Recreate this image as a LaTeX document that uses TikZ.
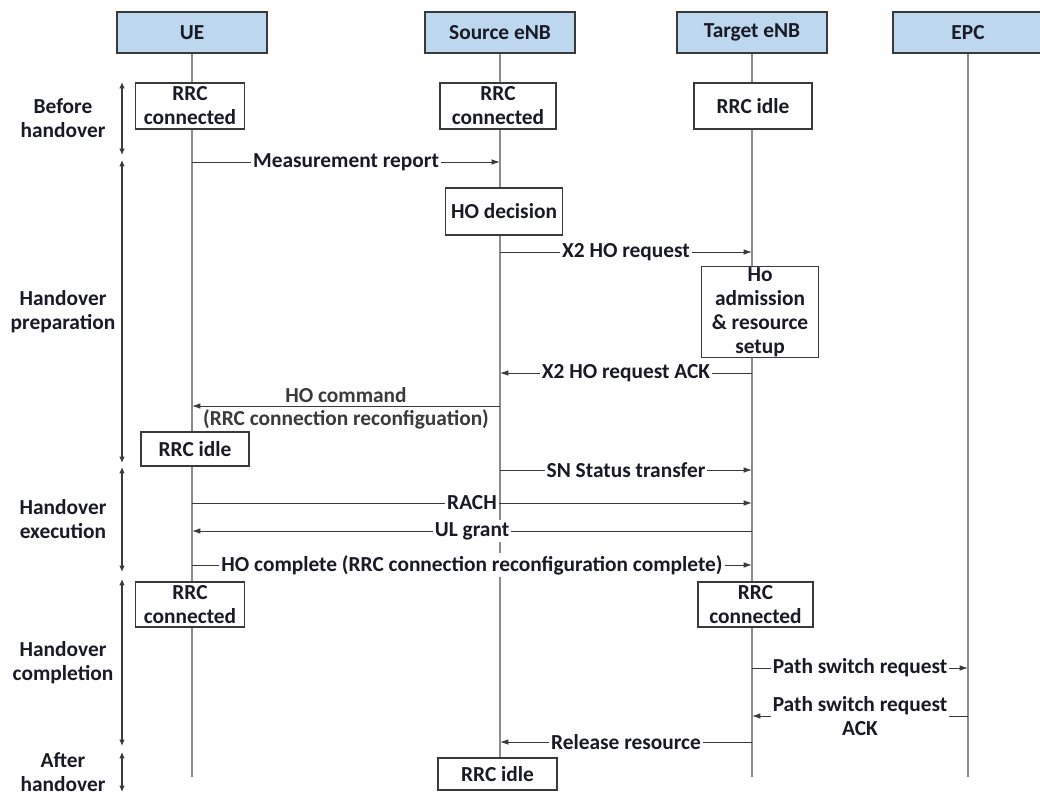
\documentclass[tikz,border=0pt]{standalone}
\usepackage{fontspec}
\setmainfont{Carlito}
\usepackage{tikz}
\usetikzlibrary{positioning,calc,arrows.meta}

\definecolor{hdrblue}{HTML}{BDD7EE}
\definecolor{lifegray}{HTML}{8C8C8C}
\definecolor{linegray}{HTML}{3A3A3A}
\definecolor{txtdark}{HTML}{1A1A26}

\tikzset{
  actor/.style={draw=linegray, line width=0.9pt, fill=hdrblue, minimum width=3.75cm, minimum height=1.025cm},
  state/.style={draw=linegray, line width=0.8pt, fill=white, align=center, inner sep=1pt},
  lifeline/.style={lifegray, line width=0.9pt},
  msg/.style={linegray, line width=0.7pt, -{Latex[length=6pt,width=4pt]}},
  msglabel/.style={fill=white, inner sep=1.5pt, text=txtdark},
  phase/.style={linegray, line width=0.9pt, {Latex[length=4.5pt,width=4pt]}-{Latex[length=4.5pt,width=4pt]}},
  phaselabel/.style={align=center}
}

\begin{document}
\begin{tikzpicture}[x=0.025cm, y=-0.025cm, font=\fontsize{15.2}{17}\selectfont\bfseries, text=txtdark]
  \useasboundingbox (0,0) rectangle (1040,795);

  % Entities and lifelines
  \foreach \n/\x/\t in {ue/192/UE, src/500/Source eNB, tgt/752/Target eNB, epc/968/EPC} {
    \node[actor] (\n) at (\x,32.5) {\t};
    \coordinate (\n-end) at (\x,777);
    \draw[lifeline] (\n) -- (\n-end);
  }

  % States
  \node[state, minimum width=2.725cm, minimum height=1.15cm] (ue-con) at (190,106) {RRC\\connected};
  \node[state, minimum width=2.9cm, minimum height=1.15cm] (src-con) at (498,106) {RRC\\connected};
  \node[state, minimum width=2.95cm, minimum height=1.15cm] (tgt-idle) at (753,106) {RRC idle};
  \node[state, minimum width=2.925cm, minimum height=1.175cm] (hodec) at (504,211.5) {HO decision};
  \node[state, minimum width=2.925cm, minimum height=2.25cm] (admit) at (760,312) {Ho\\admission\\\& resource\\setup};
  \node[state, minimum width=2.7cm, minimum height=0.85cm] (ue-idle) at (195,449) {RRC idle};
  \node[state, minimum width=2.725cm, minimum height=1.125cm] (ue-con2) at (190,604.5) {RRC\\connected};
  \node[state, minimum width=2.875cm, minimum height=1.125cm] (tgt-con) at (755.5,604.5) {RRC\\connected};
  \node[state, minimum width=2.975cm, minimum height=0.8cm] (src-idle) at (497.5,774) {RRC idle};

  % Message rows
  \foreach \r/\y in {r1/162, r2/252, r3/373, r4/406, r5/470, r6/503, r7/531, r8/565, r9/668, r10/716, r11/742}
    \coordinate (\r) at (0,\y);

  % Messages
  \draw[msg] (ue |- r1) -- node[msglabel] {Measurement report} (src |- r1);
  \draw[msg] (src |- r2) -- node[msglabel] {X2 HO request} (tgt |- r2);
  \draw[msg] (tgt |- r3) -- node[msglabel] {X2 HO request ACK} (src |- r3);
  \draw[msg] (src |- r4) -- node[above=-1.5pt] {HO command} node[below=-1pt] {(RRC connection reconfiguation)} (ue |- r4);
  \draw[msg] (src |- r5) -- node[msglabel] {SN Status transfer} (tgt |- r5);
  \draw[msg] (ue |- r6) -- node[msglabel] {RACH} (tgt |- r6);
  \draw[msg] (tgt |- r7) -- node[msglabel] {UL grant} (ue |- r7);
  \draw[msg] (ue |- r8) -- node[msglabel] {HO complete (RRC connection reconfiguration complete)} (tgt |- r8);
  \draw[msg] (tgt |- r9) -- node[msglabel] {Path switch request} (epc |- r9);
  \draw[msg] (epc |- r10) -- node[msglabel, align=center] {Path switch request\\ACK} (tgt |- r10);
  \draw[msg] (tgt |- r11) -- node[msglabel] {Release resource} (src |- r11);

  % Phases
  \foreach \p/\a/\b/\t in {pb/82/155/{Before\\handover}, pp/160/463/{Handover\\preparation}, pe/467/572/{Handover\\execution}, pc/579/746/{Handover\\completion}, pa/752/792/{After\\handover}} {
    \coordinate (\p-top) at (122,\a);
    \coordinate (\p-bot) at (122,\b);
    \draw[phase] (\p-top) -- (\p-bot);
    \node[phaselabel] (\p) at ($(\p-top)!0.5!(\p-bot)+(-59,0)$) {\t};
  }
\end{tikzpicture}
\end{document}
